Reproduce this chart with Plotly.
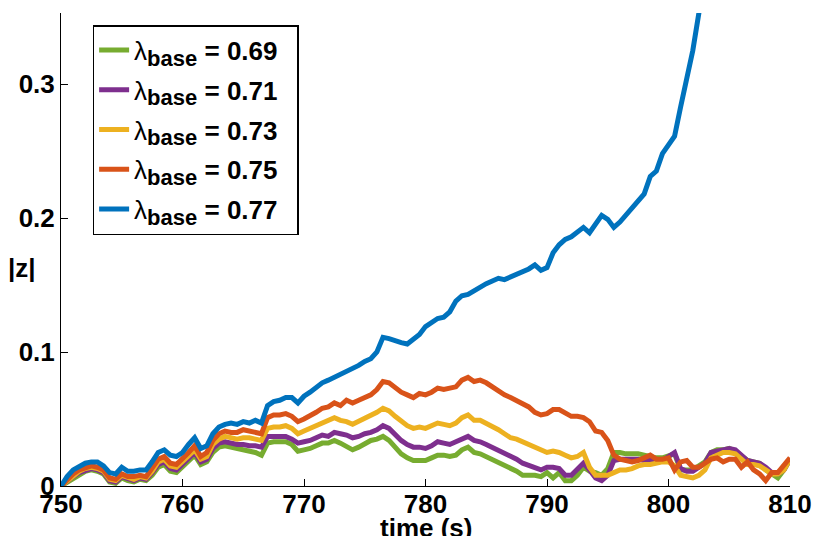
import numpy as np
import plotly.graph_objects as go

# Sample times (s), 0.5 s resolution
time_s = [750.0 + 0.5 * i for i in range(121)]

# |z| for each base rate
z_069 = [0.000, 0.003, 0.006, 0.009, 0.011, 0.012, 0.011, 0.009, 0.003, 0.002,
         0.006, 0.004, 0.003, 0.005, 0.004, 0.008, 0.014, 0.016, 0.011, 0.010,
         0.014, 0.019, 0.023, 0.016, 0.018, 0.025, 0.029, 0.030, 0.029, 0.028,
         0.027, 0.026, 0.025, 0.023, 0.032, 0.033, 0.033, 0.033, 0.031, 0.026,
         0.027, 0.028, 0.030, 0.032, 0.032, 0.034, 0.032, 0.029, 0.027, 0.029,
         0.032, 0.034, 0.035, 0.037, 0.034, 0.029, 0.024, 0.021, 0.019, 0.019,
         0.019, 0.021, 0.023, 0.023, 0.022, 0.023, 0.027, 0.029, 0.025, 0.024,
         0.022, 0.020, 0.017, 0.016, 0.014, 0.011, 0.008, 0.008, 0.008, 0.007,
         0.010, 0.006, 0.010, 0.004, 0.004, 0.008, 0.014, 0.011, 0.010, 0.008,
         0.013, 0.025, 0.025, 0.024, 0.024, 0.024, 0.023, 0.022, 0.021, 0.021,
         0.023, 0.024, 0.012, 0.012, 0.012, 0.015, 0.018, 0.025, 0.027, 0.027,
         0.028, 0.026, 0.022, 0.019, 0.018, 0.017, 0.012, 0.009, 0.006, 0.012,
         0.020]

z_071 = [0.000, 0.004, 0.007, 0.010, 0.012, 0.013, 0.012, 0.010, 0.004, 0.003,
         0.007, 0.005, 0.004, 0.006, 0.005, 0.010, 0.016, 0.018, 0.013, 0.012,
         0.016, 0.021, 0.025, 0.018, 0.020, 0.028, 0.032, 0.033, 0.032, 0.031,
         0.031, 0.030, 0.030, 0.029, 0.037, 0.037, 0.037, 0.037, 0.035, 0.032,
         0.033, 0.034, 0.036, 0.038, 0.037, 0.040, 0.039, 0.038, 0.036, 0.037,
         0.039, 0.040, 0.042, 0.045, 0.043, 0.038, 0.034, 0.031, 0.029, 0.029,
         0.028, 0.030, 0.033, 0.032, 0.031, 0.033, 0.035, 0.037, 0.034, 0.033,
         0.031, 0.029, 0.026, 0.024, 0.022, 0.020, 0.017, 0.015, 0.013, 0.012,
         0.014, 0.014, 0.013, 0.008, 0.008, 0.012, 0.017, 0.012, 0.006, 0.004,
         0.008, 0.019, 0.020, 0.020, 0.020, 0.020, 0.019, 0.019, 0.019, 0.019,
         0.022, 0.025, 0.013, 0.011, 0.011, 0.014, 0.017, 0.025, 0.026, 0.027,
         0.028, 0.027, 0.023, 0.019, 0.018, 0.017, 0.014, 0.010, 0.009, 0.012,
         0.020]

z_073 = [0.000, 0.004, 0.008, 0.011, 0.013, 0.014, 0.013, 0.011, 0.005, 0.004,
         0.008, 0.006, 0.005, 0.007, 0.006, 0.011, 0.018, 0.020, 0.015, 0.014,
         0.018, 0.023, 0.027, 0.020, 0.022, 0.031, 0.035, 0.037, 0.036, 0.035,
         0.036, 0.036, 0.035, 0.034, 0.043, 0.044, 0.044, 0.045, 0.043, 0.039,
         0.041, 0.043, 0.045, 0.047, 0.048, 0.051, 0.049, 0.048, 0.046, 0.048,
         0.050, 0.052, 0.055, 0.058, 0.056, 0.052, 0.048, 0.045, 0.043, 0.044,
         0.043, 0.045, 0.047, 0.046, 0.045, 0.047, 0.051, 0.053, 0.049, 0.049,
         0.047, 0.045, 0.042, 0.039, 0.036, 0.035, 0.033, 0.031, 0.028, 0.026,
         0.025, 0.026, 0.025, 0.023, 0.021, 0.022, 0.025, 0.014, 0.008, 0.008,
         0.008, 0.010, 0.012, 0.012, 0.013, 0.015, 0.016, 0.016, 0.017, 0.018,
         0.018, 0.015, 0.008, 0.007, 0.006, 0.008, 0.012, 0.021, 0.023, 0.025,
         0.025, 0.024, 0.020, 0.016, 0.016, 0.015, 0.012, 0.009, 0.009, 0.012,
         0.020]

z_075 = [0.000, 0.005, 0.009, 0.012, 0.014, 0.015, 0.014, 0.012, 0.006, 0.005,
         0.009, 0.007, 0.007, 0.008, 0.007, 0.013, 0.020, 0.022, 0.017, 0.016,
         0.020, 0.025, 0.030, 0.022, 0.025, 0.034, 0.039, 0.041, 0.040, 0.040,
         0.042, 0.041, 0.040, 0.039, 0.051, 0.053, 0.053, 0.054, 0.052, 0.048,
         0.050, 0.052, 0.055, 0.058, 0.059, 0.062, 0.060, 0.064, 0.062, 0.064,
         0.066, 0.068, 0.072, 0.078, 0.077, 0.073, 0.070, 0.068, 0.066, 0.069,
         0.068, 0.070, 0.073, 0.072, 0.073, 0.074, 0.079, 0.081, 0.078, 0.079,
         0.077, 0.074, 0.070, 0.068, 0.066, 0.064, 0.061, 0.059, 0.055, 0.053,
         0.054, 0.057, 0.057, 0.054, 0.052, 0.052, 0.051, 0.048, 0.041, 0.040,
         0.034, 0.023, 0.020, 0.019, 0.018, 0.019, 0.021, 0.023, 0.020, 0.020,
         0.021, 0.012, 0.018, 0.019, 0.014, 0.014, 0.017, 0.020, 0.021, 0.018,
         0.020, 0.020, 0.014, 0.018, 0.012, 0.009, 0.004, 0.010, 0.010, 0.016,
         0.021]

# The 0.77 run diverges and leaves the plotted range after ~802.5 s
z_077 = [0.000, 0.007, 0.012, 0.015, 0.017, 0.018, 0.018, 0.015, 0.010, 0.009,
         0.014, 0.011, 0.011, 0.012, 0.012, 0.018, 0.025, 0.027, 0.023, 0.022,
         0.025, 0.031, 0.036, 0.028, 0.030, 0.039, 0.044, 0.046, 0.047, 0.046,
         0.048, 0.047, 0.049, 0.047, 0.060, 0.063, 0.064, 0.066, 0.066, 0.062,
         0.067, 0.070, 0.074, 0.077, 0.079, 0.081, 0.084, 0.085, 0.088, 0.090,
         0.093, 0.095, 0.100, 0.111, 0.110, 0.108, 0.107, 0.106, 0.110, 0.113,
         0.119, 0.122, 0.125, 0.126, 0.130, 0.138, 0.142, 0.143, 0.146, 0.149,
         0.151, 0.153, 0.155, 0.154, 0.156, 0.157, 0.159, 0.162, 0.165, 0.161,
         0.163, 0.174, 0.180, 0.184, 0.186, 0.189, 0.193, 0.189, 0.195, 0.202,
         0.199, 0.193, 0.197, 0.202, 0.207, 0.212, 0.218, 0.231, 0.235, 0.248,
         0.255, 0.261, 0.283, 0.305, 0.325, 0.353, 0.385]

series = [
    ("0.69", z_069, "#77AC30"),
    ("0.71", z_071, "#7E2F8E"),
    ("0.73", z_073, "#EDB120"),
    ("0.75", z_075, "#D95319"),
    ("0.77", z_077, "#0072BD"),
]

FONT = "Liberation Sans, Arial, Helvetica, sans-serif"
FS = 26

# plot-area geometry in pixels (used to place free text)
L, R, T, B = 61, 25, 13, 50
PW, PH = 824 - L - R, 536 - T - B


def px_to_paper(px, py):
    return (px - L) / PW, (536 - B - py) / PH


fig = go.Figure()
for lam, z, color in series:
    fig.add_trace(go.Scatter(
        x=time_s[:len(z)], y=z, mode="lines",
        name=(f"λ<sub><span style='font-size:22px'><b>base</b></span></sub>"
              f"<b> = {lam}</b>&nbsp;&nbsp;"),
        legendgroup=lam,
        line=dict(color=color, width=5),
    ))

lx, ly = px_to_paper(93, 25)
zx, zy = px_to_paper(22, 268)
tx, ty = px_to_paper(430, 511)

fig.update_layout(
    width=824, height=536,
    margin=dict(l=L, r=R, t=T, b=B),
    paper_bgcolor="white", plot_bgcolor="white",
    font=dict(family=FONT, size=FS, color="black"),
    showlegend=True,
    legend=dict(
        x=lx, y=ly, xanchor="left", yanchor="top",
        bgcolor="white", bordercolor="black", borderwidth=1.5,
        font=dict(family=FONT, size=FS, color="black"),
        itemwidth=30, tracegroupgap=3,
    ),
    xaxis=dict(
        range=[750, 810], tickvals=[750, 760, 770, 780, 790, 800, 810],
        ticks="inside", ticklen=7, tickcolor="black", tickwidth=1,
        showline=True, linecolor="black", linewidth=1, mirror=False,
        showgrid=False, zeroline=False, ticklabelstandoff=-5,
        tickfont=dict(family=FONT, size=FS, weight="bold"),
    ),
    yaxis=dict(
        range=[0, 0.353], tickvals=[0, 0.1, 0.2, 0.3], ticktext=["0", "0.1", "0.2", "0.3"],
        ticks="inside", ticklen=7, tickcolor="black", tickwidth=1,
        showline=True, linecolor="black", linewidth=1, mirror=False,
        showgrid=False, zeroline=False,
        tickfont=dict(family=FONT, size=FS, weight="bold"),
    ),
    annotations=[
        dict(text="<b>|z|</b>", x=zx, y=zy, xref="paper", yref="paper",
             xanchor="center", yanchor="middle", showarrow=False,
             font=dict(family=FONT, size=FS)),
        dict(text="<b>time (s)</b>", x=tx, y=ty, xref="paper", yref="paper",
             xanchor="center", yanchor="top", showarrow=False,
             font=dict(family=FONT, size=FS)),
    ],
)

fig.write_html("out.html")
